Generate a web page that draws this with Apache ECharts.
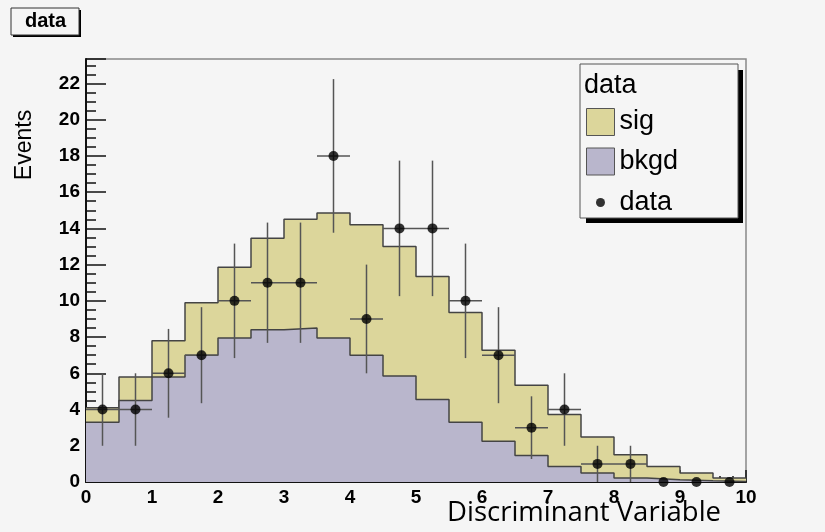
<!DOCTYPE html>
<html>
<head>
<meta charset="utf-8">
<script src="https://cdn.jsdelivr.net/npm/echarts@6/dist/echarts.min.js"></script>
<style>
  html, body { margin: 0; padding: 0; background: #f5f5f5; }
  #chart { width: 825px; height: 532px; }
</style>
</head>
<body>
<div id="chart"></div>
<script>
// bin edges of the histogram (20 bins)
var binEdges = [0, 0.5, 1, 1.5, 2, 2.5, 3, 3.5, 4, 4.5, 5, 5.5, 6, 6.5, 7, 7.5, 8, 8.5, 9, 9.5, 10];
// stacked histogram contents
var bkgd = [3.3, 4.5, 5.8, 7.0, 7.95, 8.4, 8.5, 7.95, 7.0, 5.85, 4.55, 3.3, 2.25, 1.46, 0.86, 0.5, 0.22, 0.13, 0.07, 0.03];
var sig  = [0.8, 1.3, 2.0, 2.9, 3.9, 5.05, 6.0, 6.9, 7.2, 7.15, 6.8, 6.05, 5.02, 3.88, 2.86, 1.99, 1.28, 0.73, 0.43, 0.19];
// observed data and its errors
var dataCounts = [4, 4, 6, 7, 10, 11, 11, 18, 9, 14, 14, 10, 7, 3, 4, 1, 1, 0, 0, 0];
var dataErrors = [2, 2, 2.45, 2.65, 3.16, 3.32, 3.32, 4.24, 3, 3.74, 3.74, 3.16, 2.65, 1.73, 2, 1, 1, 0, 0, 0];
var yTicks = [0, 2, 4, 6, 8, 10, 12, 14, 16, 18, 20, 22];

var chart = echarts.init(document.getElementById('chart'));

// step line points: value holds from left edge to next edge
function stepPoints(vals) {
  var pts = [];
  for (var i = 0; i < vals.length; i++) pts.push([binEdges[i], vals[i]]);
  pts.push([binEdges[vals.length], vals[vals.length - 1]]);
  return pts;
}
var total = bkgd.map(function (b, i) { return b + sig[i]; });

var points = [], bars = [];
dataCounts.forEach(function (n, i) {
  var lo = binEdges[i], hi = binEdges[i + 1];
  points.push([(lo + hi) / 2, n]);
  if (n > 0) bars.push([(lo + hi) / 2, n, dataErrors[i], lo, hi]);
});

var labelFont = { fontFamily: 'Liberation Sans', fontWeight: 'bold', fontSize: 19, color: '#000' };
var legendFont = { fontFamily: 'Liberation Sans', fontSize: 27, color: '#000' };
var lineC = '#444';

chart.setOption({
  backgroundColor: '#f5f5f5',
  animation: false,
  title: {
    text: 'data',
    left: 11, top: 8,
    padding: [3, 13, 3, 14],
    textStyle: { fontFamily: 'Liberation Sans', fontWeight: 'bold', fontSize: 20, color: '#000' },
    z: 10
  },
  legend: [{
    data: [
      { name: 'sig', icon: 'rect', itemStyle: { borderColor: '#555', borderWidth: 1 } },
      { name: 'bkgd', icon: 'rect', itemStyle: { borderColor: '#555', borderWidth: 1 } }
    ],
    orient: 'vertical',
    left: 580, top: 64,
    itemWidth: 28, itemHeight: 27, itemGap: 11.5, itemTextGap: 6,
    padding: [44, 60, 44, 6],
    selectedMode: false,
    textStyle: legendFont,
    z: 10
  }, {
    data: [{ name: 'data', icon: 'circle' }],
    left: 596, top: 189,
    itemWidth: 28, itemHeight: 9, itemTextGap: 6,
    padding: 0,
    selectedMode: false,
    textStyle: legendFont,
    z: 10
  }],
  graphic: [
    // title box with shadow
    { type: 'rect', z: 5, shape: { x: 13, y: 10, width: 68, height: 27 }, style: { fill: '#000' } },
    { type: 'rect', z: 5, shape: { x: 11, y: 8, width: 68, height: 27 }, style: { fill: '#f5f5f5', stroke: '#333', lineWidth: 1 } },
    // legend box with shadow
    { type: 'rect', z: 5, shape: { x: 586, y: 70, width: 157, height: 153 }, style: { fill: '#000' } },
    { type: 'rect', z: 5, shape: { x: 580, y: 64, width: 158, height: 154 }, style: { fill: '#f5f5f5', stroke: '#555', lineWidth: 1 } },
    {
      type: 'text', z: 20, x: 584, y: 85.5,
      style: { text: 'data', font: '27px "Liberation Sans"', fill: '#000', verticalAlign: 'middle' }
    }, {
      type: 'text', z: 20, x: 25, y: 145, rotation: Math.PI / 2,
      style: { text: 'Events', font: '23px "Liberation Sans"', fill: '#000', align: 'center', verticalAlign: 'middle' }
    }, {
      type: 'text', z: 20, x: 447, y: 513,
      style: { text: 'Discriminant Variable', font: '27.5px "Open Sans"', fill: '#000', align: 'left', verticalAlign: 'middle' }
    }
  ],
  grid: {
    left: 86, top: 59, right: 79, bottom: 50,
    show: true, borderColor: '#888', borderWidth: 1.5, backgroundColor: '#f5f5f5'
  },
  xAxis: {
    type: 'value', min: 0, max: 10, interval: 1,
    axisLine: { lineStyle: { color: '#111', width: 2 } },
    axisTick: { inside: true, length: 12, lineStyle: { color: '#111', width: 1.5 } },
    minorTick: { show: true, splitNumber: 5, length: 6, lineStyle: { color: '#111', width: 1.5 } },
    splitLine: { show: false },
    axisLabel: Object.assign({ margin: 6 }, labelFont)
  },
  yAxis: {
    type: 'value', min: 0, max: 23.35, interval: 2,
    axisLine: { lineStyle: { color: '#111', width: 2 } },
    axisTick: { inside: true, length: 20, lineStyle: { color: '#111', width: 1.5 } },
    minorTick: { show: true, splitNumber: 4, length: 10, lineStyle: { color: '#111', width: 1.5 } },
    splitLine: { show: false },
    axisLabel: Object.assign({
      margin: 6, padding: [8, 0, 0, 0], showMaxLabel: false,
      formatter: function (v) { return yTicks.indexOf(v) >= 0 ? String(v) : ''; }
    }, labelFont)
  },
  series: [{
    name: 'sig', type: 'line', step: 'end', symbol: 'none',
    data: stepPoints(total),
    itemStyle: { color: '#dcd69b' },
    lineStyle: { color: lineC, width: 1.5 },
    areaStyle: { color: '#dcd69b', opacity: 1 },
    z: 1
  }, {
    name: 'bkgd', type: 'line', step: 'end', symbol: 'none',
    data: stepPoints(bkgd),
    itemStyle: { color: '#b9b6cc' },
    lineStyle: { color: lineC, width: 1.5 },
    areaStyle: { color: '#b9b6cc', opacity: 1 },
    z: 2
  }, {
    name: 'errors', type: 'custom',
    data: bars,
    renderItem: function (params, api) {
      var x = api.value(0), y = api.value(1), e = api.value(2);
      var top = api.coord([x, y + e]), bot = api.coord([x, y - e]);
      var left = api.coord([api.value(3), y]), right = api.coord([api.value(4), y]);
      var st = { stroke: '#555', lineWidth: 1.5 };
      return { type: 'group', children: [
        { type: 'line', shape: { x1: top[0], y1: top[1], x2: bot[0], y2: bot[1] }, style: st },
        { type: 'line', shape: { x1: left[0], y1: left[1], x2: right[0], y2: right[1] }, style: st }
      ] };
    },
    z: 3
  }, {
    name: 'data', type: 'scatter',
    data: points,
    symbolSize: 10,
    itemStyle: { color: '#000' },
    z: 4
  }]
});
</script>
</body>
</html>
